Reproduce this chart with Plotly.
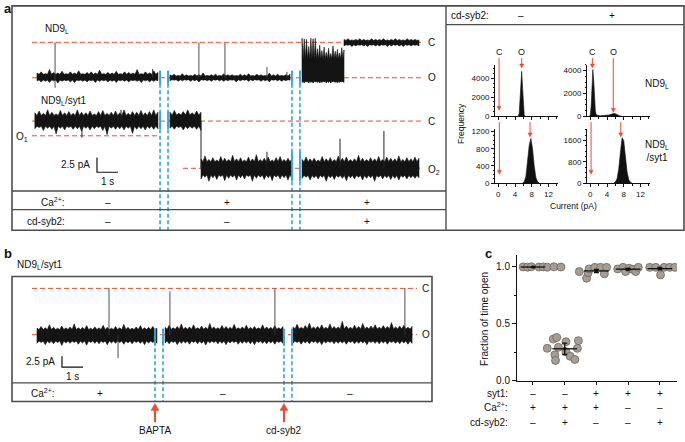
import numpy as np
import plotly.graph_objects as go

W, H = 685, 442
def PX(x): return x / W
def PY(y): return 1 - y / H

FONT = "Liberation Sans, Arial, Helvetica, sans-serif"
RED = "#ea4a33"
BLUE = "#2aa8e0"
FRAME = "#4d4d4d"
INK = "#111111"

# ======================= DATA =======================
# ---- Panel a: ND9L trace (pA, open current drawn downward) ----
a1_C, a1_O = 0.0, 6.0
a1_seg_t0 = [0.00, 6.33, 12.62, 14.62]
a1_seg_t1 = [5.76, 12.05, 14.62, 18.19]
a1_seg_level = [5.9, 6.0, 6.3, 0.0]
a1_seg_up = [
    [0.7,0.9,0.6,1.3,0.8,0.7,1.0,0.6,0.9,0.7,1.1,0.6,0.8,0.9,0.7,1.2,0.6,0.8,0.7,1.0,0.6,0.9,0.8,0.7,1.3,0.6,0.9,0.7,1.1,0.8],
    [0.5,0.6,0.4,0.7,0.5,0.4,0.6,0.5,0.8,0.4,0.5,0.6,0.4,0.7,0.5,0.5,0.4,0.6,0.5,0.7,0.4,0.6,0.5,0.4,0.8,0.5,0.6,0.4,0.5,0.6],
    [7.0,6.9,6.8,5.6,7.0,6.9,7.0,5.2,5.8,4.9,5.5,4.6,5.3,4.4,5.7,4.8,5.1,4.5,5.4,5.0],
    [0.5,0.6,0.4,0.5,0.6,0.5,0.4,0.6,0.5,0.5,0.6,0.4,0.5,0.6,0.5,0.4,0.6,0.5,0.5,0.4],
]
a1_seg_dn = [
    [0.6,0.8,0.7,0.9,0.6,1.0,0.7,0.6,0.8,0.9,0.6,0.7,0.8,0.6,0.9,0.7,0.6,0.8,0.7,0.9,0.6,0.7,0.8,0.6,0.7,0.9,0.6,0.8,0.7,0.6],
    [0.5,0.4,0.6,0.5,0.4,0.6,0.5,0.7,0.4,0.5,0.6,0.4,0.5,0.6,0.5,0.4,0.7,0.5,0.4,0.6,0.5,0.4,0.6,0.5,0.7,0.4,0.5,0.6,0.5,0.4],
    [0.5,0.6,0.4,0.6,0.5,0.6,0.4,0.5,0.6,0.5,0.4,0.6,0.5,0.6,0.4,0.5,0.6,0.5,0.4,0.5],
    [0.6,0.5,0.7,0.6,0.5,0.6,0.7,0.5,0.6,0.6,0.5,0.7,0.6,0.5,0.6,0.7,0.5,0.6,0.5,0.6],
]
a1_spike_t = [0.86, 0.86, 5.50, 7.71, 8.95, 10.95, 11.90]
a1_spike_base = [5.9, 5.9, 5.9, 6.0, 6.0, 6.0, 6.0]
a1_spike_to = [0.0, 7.7, 4.5, 0.0, 0.1, 4.2, 5.0]

# ---- Panel a: ND9L/syt1 trace ----
a2_C, a2_O1, a2_O2 = 0.0, 2.5, 8.0
a2_seg_t0 = [-0.10, 6.33, 7.81, 12.62]
a2_seg_t1 = [5.76, 7.81, 12.14, 18.19]
a2_seg_level = [0.0, 0.0, 8.0, 8.0]
a2_seg_up = [
    [1.4,1.7,1.3,1.9,1.5,1.2,1.8,1.4,1.6,1.3,1.9,1.5,1.4,1.7,1.2,1.6,1.8,1.3,1.5,1.7,1.4,1.9,1.3,1.6,1.5,1.8,1.4,1.6,1.9,1.5],
    [1.5,1.8,1.3,1.6,1.9,1.4,1.7,1.5],
    [1.6,2.1,1.5,1.8,1.4,2.0,1.7,1.5,2.2,1.6,1.8,1.4,1.9,1.6,2.3,1.5,1.7,1.9,1.4,1.8,2.0,1.5,1.7,1.6],
    [1.5,1.9,1.6,1.7,1.4,2.0,1.6,1.8,1.5,2.1,1.7,1.9,1.5,1.6,2.2,1.7,1.5,1.8,1.6,2.0,1.5,1.9,1.7,1.6,2.1,1.5,1.8,1.6,1.9,1.7],
]
a2_seg_dn = [
    [1.3,1.1,1.6,1.2,1.4,2.2,1.2,1.5,1.1,1.4,1.3,1.7,1.2,1.5,1.3,1.1,1.6,2.3,1.2,1.4,1.3,1.5,1.2,2.1,1.4,1.3,1.5,1.2,1.4,1.3],
    [1.2,1.4,1.1,1.5,1.3,1.2,1.4,1.6],
    [1.8,1.5,2.2,1.6,1.9,1.4,2.1,1.7,1.5,2.0,1.6,1.8,1.4,2.2,1.7,1.5,1.9,1.6,2.1,1.5,1.8,1.6,2.0,1.7],
    [1.7,1.5,2.0,1.6,1.8,1.5,2.2,1.6,1.9,1.5,1.7,2.1,1.6,1.8,1.5,2.0,1.7,1.6,2.2,1.5,1.8,1.6,1.9,1.7,2.0,1.5,1.8,1.6,1.7,1.6],
]
a2_spike_t = [2.14, 4.00, 7.81, 10.95, 14.43, 16.52]
a2_spike_base = [0.0, 0.0, 0.0, 8.0, 8.0, 8.0]
a2_spike_to = [2.8, -1.9, 8.0, 5.2, 3.0, 1.7]

a_exchange_t = [5.86, 6.24, 12.14, 12.52]
a_cond_t = [3.38, 9.05, 15.71]
a_ca_signs = ["–", "+", "+"]
a_syb_signs = ["–", "–", "+"]

# ---- Panel a: all-points histograms (current pA, counts) ----
h_syb_signs = ["–", "+"]
h1_x = [4.6, 4.8, 5.0, 5.2, 5.4, 5.6, 5.8, 6.0, 6.2, 6.4]
h1_y = [0, 40, 300, 1500, 3800, 4750, 3100, 900, 150, 0]
h2_x = [-0.2, 0.0, 0.2, 0.4, 0.6, 0.8, 1.0, 1.2, 1.4, 1.8, 2.5, 3.5, 4.5, 5.0, 5.5, 6.0, 6.5, 7.0, 7.5]
h2_y = [0, 150, 900, 2800, 4100, 3200, 1400, 450, 150, 60, 40, 50, 100, 170, 240, 220, 120, 40, 0]
h3_x = [5.8, 6.2, 6.6, 7.0, 7.4, 7.8, 8.2, 8.6, 9.0, 9.4, 9.8]
h3_y = [0, 30, 150, 460, 880, 1040, 800, 400, 130, 30, 0]
h4_x = [5.6, 6.0, 6.4, 6.8, 7.2, 7.6, 8.0, 8.4, 8.8, 9.2, 9.6, 10.0]
h4_y = [0, 40, 160, 520, 1150, 1700, 1600, 1000, 420, 130, 30, 0]
h_closed = [0.17, 0.5, 0.24, 0.17]
h_open = [5.6, 5.5, 7.6, 7.3]

# ---- Panel b: ND9L/syt1 trace ----
b_C, b_O = 0.0, 10.7
b_seg_t0 = [0.00, 6.10, 12.19]
b_seg_t1 = [5.71, 11.71, 17.86]
b_seg_level = [10.8, 10.8, 10.8]
b_seg_up = [
    [1.6,2.0,1.7,2.4,1.8,1.6,2.1,1.7,1.9,2.6,1.7,1.8,2.2,1.6,1.9,1.7,2.3,1.8,1.6,2.0,1.7,2.5,1.8,1.6,1.9,2.2,1.7,1.8,2.0,1.6],
    [1.8,2.3,1.7,2.0,2.6,1.8,1.9,2.4,1.7,2.1,1.8,2.7,1.9,1.7,2.2,2.0,1.8,2.5,1.7,1.9,2.3,1.8,2.0,1.7,2.4,1.9,1.8,2.2,1.7,2.0],
    [1.9,2.5,1.8,2.2,2.8,1.9,2.0,2.4,1.8,2.6,2.0,1.9,3.2,2.1,1.8,2.3,2.0,2.7,1.9,2.1,2.4,1.8,2.2,2.0,2.9,1.9,2.1,2.3,1.8,2.0],
]
b_seg_dn = [
    [1.9,1.7,2.2,1.8,2.0,1.7,2.4,1.8,1.9,1.7,2.1,1.8,2.3,1.7,1.9,2.0,1.7,2.2,1.8,1.9,1.7,2.1,1.8,2.0,1.7,1.9,2.2,1.8,1.7,1.9],
    [1.8,2.0,1.7,2.2,1.9,1.8,2.1,1.7,2.0,1.9,2.3,1.8,1.7,2.0,1.9,2.2,1.8,1.7,2.1,1.9,1.8,2.0,2.2,1.7,1.9,2.0,1.8,2.1,1.7,1.9],
    [1.9,1.7,2.1,1.8,2.0,1.7,1.9,2.2,1.8,1.7,2.0,1.9,1.8,2.1,1.7,2.0,1.9,1.8,2.2,1.7,1.9,2.0,1.8,2.1,1.7,1.9,2.0,1.8,2.1,1.9],
]
b_spike_t = [3.43, 3.86, 6.33, 11.33, 17.52]
b_spike_base = [10.8, 10.8, 10.8, 10.8, 10.8]
b_spike_to = [0.0, 16.1, 0.7, 0.0, 0.0]
b_exchange_t = [5.62, 6.00, 11.76, 12.14]
b_cond_t = [3.0, 8.86, 14.9]
b_ca_signs = ["+", "–", "–"]
b_events = ["BAPTA", "cd-syb2"]
b_event_t = [5.62, 11.76]

# ---- Panel c: fraction of time open ----
c_cat = [1, 2, 3, 4, 5]
c_syt1 = ["–", "–", "+", "+", "+"]
c_ca = ["+", "+", "+", "–", "–"]
c_syb = ["–", "+", "–", "–", "+"]
c_vals = [
    [0.998, 0.996, 0.999, 0.997, 0.998, 0.995, 0.999, 0.997],
    [0.285, 0.366, 0.380, 0.228, 0.179, 0.294, 0.343, 0.256, 0.216, 0.187, 0.285, 0.352],
    [0.957, 0.899, 0.948, 0.980, 0.994, 0.994, 0.937, 0.994],
    [0.980, 0.994, 0.957, 0.986, 0.977, 0.957, 0.994],
    [0.994, 0.994, 0.928, 0.994, 0.994, 0.994],
]
c_jitter = [
    [-0.31, -0.17, -0.05, 0.19, 0.32, 0.45, 0.66, 0.88],
    [-0.55, -0.36, -0.25, -0.31, -0.29, -0.20, 0.04, 0.04, 0.17, 0.32, 0.40, 0.43],
    [-0.54, -0.31, -0.26, -0.23, -0.05, 0.13, 0.25, 0.32],
    [-0.33, -0.16, -0.08, 0.03, 0.14, 0.24, 0.32],
    [-0.32, -0.13, 0.02, 0.13, 0.31, 0.47],
]
c_mean = [0.997, 0.281, 0.963, 0.978, 0.983]
c_sem = [0.002, 0.050, 0.014, 0.007, 0.011]

# ======================= FIGURE =======================
fig = go.Figure()
A2_OFF = 13.33   # vertical display offset of the second trace (pA)

def add_line(xa, ya, xs, ys, color, width, dash="solid"):
    fig.add_trace(go.Scatter(x=xs, y=ys, xaxis=xa, yaxis=ya, mode="lines",
                             line=dict(color=color, width=width, dash=dash),
                             hoverinfo="skip", showlegend=False))

def add_band(xa, ya, t0, t1, level, up, dn, off):
    """Noisy current record drawn as a filled envelope: spikes at each
    sample, a solid core between them."""
    up = np.array(up); dn = np.array(dn)
    n = len(up)
    t = np.linspace(t0, t1, n)
    dt = (t1 - t0) / (n - 1)
    cu, cd = 0.8 * up.min(), 0.8 * dn.min()
    tx, ty, bx, by = [], [], [], []
    for i in range(n):
        tx.append(t[i]); ty.append(off + level - up[i])
        bx.append(t[i]); by.append(off + level + dn[i])
        if i < n - 1:
            tx.append(t[i] + dt * 0.5); ty.append(off + level - cu)
            bx.append(t[i] + dt * 0.5); by.append(off + level + cd)
    xs = tx + bx[::-1] + [tx[0]]
    ys = ty + by[::-1] + [ty[0]]
    fig.add_trace(go.Scatter(x=xs, y=ys, xaxis=xa, yaxis=ya, mode="lines",
                             fill="toself", fillcolor="#141414",
                             line=dict(color="#141414", width=0.6),
                             hoverinfo="skip", showlegend=False))

def add_spikes(xa, ya, ts, base, to, off, color="#3a3a3a", width=0.9):
    xs, ys = [], []
    for t, b, e in zip(ts, base, to):
        xs += [t, t, None]
        ys += [off + b, off + e, None]
    add_line(xa, ya, xs, ys, color, width)

# ---- Panel a traces (axis x / y) ----
A_END = 18.38
add_line("x", "y", [-0.24, A_END], [a1_C, a1_C], RED, 1, "5px,3px")
add_line("x", "y", [-0.24, A_END], [a1_O, a1_O], RED, 1, "5px,3px")
add_line("x", "y", [-0.24, A_END], [A2_OFF + a2_C] * 2, RED, 1, "5px,3px")
add_line("x", "y", [-0.24, 5.76], [A2_OFF + a2_O1] * 2, RED, 1, "5px,3px")
add_line("x", "y", [6.95, A_END], [A2_OFF + a2_O2] * 2, RED, 1, "5px,3px")

for t0, t1, lv, up, dn in zip(a1_seg_t0, a1_seg_t1, a1_seg_level, a1_seg_up, a1_seg_dn):
    add_band("x", "y", t0, t1, lv, up, dn, 0.0)
for t0, t1, lv, up, dn in zip(a2_seg_t0, a2_seg_t1, a2_seg_level, a2_seg_up, a2_seg_dn):
    add_band("x", "y", t0, t1, lv, up, dn, A2_OFF)
add_spikes("x", "y", a1_spike_t, a1_spike_base, a1_spike_to, 0.0)
add_spikes("x", "y", a2_spike_t, a2_spike_base, a2_spike_to, A2_OFF, "#222", 1.0)

# solution exchange markers
for i, t in enumerate(a_exchange_t):
    add_line("x", "y", [t, t], [4.83, 31.83], BLUE, 1.6, "4px,2.5px")
    add_line("x", "y", [t, t], [4.83, 7.17], BLUE, 1.8)
    if i < 2:
        add_line("x", "y", [t, t], [11.83, 14.67], BLUE, 1.8)
    else:
        add_line("x", "y", [t, t], [18.5, 23.5], BLUE, 1.8)

# scale bar (2.5 pA, 1 s)
add_line("x", "y", [2.857, 2.857, 3.857], [22.0 - 2.5, 22.0, 22.0], INK, 1.2)

# ---- Panel b traces (axis x2 / y2) ----
B_END = 18.1
add_line("x2", "y2", [-0.24, B_END], [b_C, b_C], RED, 1, "5px,3px")
add_line("x2", "y2", [-0.24, B_END], [b_O, b_O], RED, 1, "5px,3px")
for t0, t1, lv, up, dn in zip(b_seg_t0, b_seg_t1, b_seg_level, b_seg_up, b_seg_dn):
    add_band("x2", "y2", t0, t1, lv, up, dn, 0.0)
add_spikes("x2", "y2", b_spike_t, b_spike_base, b_spike_to, 0.0)
for t in b_exchange_t:
    add_line("x2", "y2", [t, t], [9.32, 26.14], BLUE, 1.6, "4px,2.5px")
    add_line("x2", "y2", [t, t], [9.32, 13.18], BLUE, 1.8)
add_line("x2", "y2", [1.19, 1.19, 2.19], [18.18 - 2.5, 18.18, 18.18], INK, 1.2)

# ---- Histograms ----
hist = [(h1_x, h1_y, "x3", "y3"), (h2_x, h2_y, "x4", "y4"),
        (h3_x, h3_y, "x5", "y5"), (h4_x, h4_y, "x6", "y6")]
for hx, hy, xa, ya in hist:
    fig.add_trace(go.Scatter(x=hx, y=hy, xaxis=xa, yaxis=ya, mode="lines",
                             fill="tozeroy", fillcolor="#111",
                             line=dict(color="#111", width=0.6),
                             hoverinfo="skip", showlegend=False))

# ---- Panel c ----
for k, cat in enumerate(c_cat):
    fig.add_trace(go.Scatter(
        x=[cat + j for j in c_jitter[k]], y=c_vals[k], xaxis="x7", yaxis="y7",
        mode="markers", marker=dict(size=8, color="#a59d96",
                                    line=dict(color="#6e6862", width=0.8)),
        hoverinfo="skip", showlegend=False))
for k, cat in enumerate(c_cat):
    add_line("x7", "y7", [cat - 0.39, cat + 0.39], [c_mean[k], c_mean[k]], "#111", 1.3)
fig.add_trace(go.Scatter(
    x=c_cat, y=c_mean, xaxis="x7", yaxis="y7", mode="markers",
    marker=dict(size=3, color="#111", symbol="square"),
    error_y=dict(type="data", array=c_sem, color="#111", thickness=1.3, width=2.5),
    hoverinfo="skip", showlegend=False))

# ======================= AXES =======================
hidden = dict(visible=False, showgrid=False, zeroline=False, fixedrange=True)
layout_axes = dict(
    xaxis=dict(domain=[PX(12), PX(446)], range=[-1.190, 19.476], anchor="y", **hidden),
    yaxis=dict(domain=[PY(233), PY(5)], range=[31.833, -6.167], anchor="x", **hidden),
    xaxis2=dict(domain=[PX(12), PX(432)], range=[-1.190, 18.81], anchor="y2", **hidden),
    yaxis2=dict(domain=[PY(407), PY(280)], range=[26.14, -2.727], anchor="x2", **hidden),
)

def hax(domain, show_labels):
    return dict(domain=domain, range=[-0.8, 14.3], showline=True, linecolor="#111",
                linewidth=1, ticks="outside", ticklen=3, tickwidth=1, tickcolor="#111",
                tickvals=[0, 4, 8, 12], showticklabels=show_labels,
                tickfont=dict(size=8, color=INK, family=FONT),
                minor=dict(ticks="outside", ticklen=2, dtick=2, tickcolor="#111"),
                showgrid=False, zeroline=False, fixedrange=True)

def hay(domain, rng, vals, minor_dtick):
    return dict(domain=domain, range=rng, showline=True, linecolor="#111",
                linewidth=1, ticks="outside", ticklen=3, tickwidth=1, tickcolor="#111",
                tickvals=vals, tickfont=dict(size=8, color=INK, family=FONT),
                minor=dict(ticks="outside", ticklen=1.5, dtick=minor_dtick, tickcolor="#111"),
                showgrid=False, zeroline=False, fixedrange=True)

TOP = [PY(117), PY(65)]
BOT = [PY(185), PY(130)]
LEFT = [PX(495), PX(558)]
RIGHT = [PX(587), PX(650)]
layout_axes.update(
    xaxis3=dict(anchor="y3", **hax(LEFT, False)),
    yaxis3=dict(anchor="x3", **hay(TOP, [0, 5420], [0, 2000, 4000], 500)),
    xaxis4=dict(anchor="y4", **hax(RIGHT, False)),
    yaxis4=dict(anchor="x4", **hay(TOP, [0, 4500], [0, 2000, 4000], 500)),
    xaxis5=dict(anchor="y5", **hax(LEFT, True)),
    yaxis5=dict(anchor="x5", **hay(BOT, [0, 1264], [0, 400, 800, 1200], 100)),
    xaxis6=dict(anchor="y6", **hax(RIGHT, True)),
    yaxis6=dict(anchor="x6", **hay(BOT, [0, 2030], [0, 800, 1600], 200)),
    xaxis7=dict(domain=[PX(517), PX(677)], range=[0.496, 5.54], anchor="y7",
                showline=True, linecolor="#111", linewidth=1, ticks="outside",
                ticklen=3, tickcolor="#111", tickvals=c_cat, showticklabels=False,
                showgrid=False, zeroline=False, fixedrange=True),
    yaxis7=dict(domain=[PY(386), PY(258)], range=[0, 1.103], anchor="x7",
                showline=True, linecolor="#111", linewidth=1, ticks="outside",
                ticklen=4, tickcolor="#111", tickvals=[0, 0.5, 1.0],
                ticktext=["0.0", "0.5", "1.0"],
                tickfont=dict(size=10, color=INK, family=FONT),
                minor=dict(ticks="outside", ticklen=2, tickvals=[0.25, 0.75], tickcolor="#111"),
                showgrid=False, zeroline=False, fixedrange=True),
)

# ======================= SHAPES =======================
shapes = []
def pline(x0, y0, x1, y1, color=FRAME, width=1.4):
    shapes.append(dict(type="line", xref="paper", yref="paper",
                       x0=PX(x0), y0=PY(y0), x1=PX(x1), y1=PY(y1),
                       line=dict(color=color, width=width)))
def prect(x0, y0, x1, y1):
    shapes.append(dict(type="rect", xref="paper", yref="paper",
                       x0=PX(x0), y0=PY(y1), x1=PX(x1), y1=PY(y0),
                       line=dict(color=FRAME, width=1.6)))
prect(12, 5, 684, 233)
pline(446, 5, 446, 233)
pline(12, 193, 446, 193)
pline(12, 212, 446, 212)
pline(446, 24, 684, 24)
prect(12, 280, 432, 407)
pline(12, 388, 432, 388)

def arrow(xref, x, tip_py, tail_py, half_w, head_len, width):
    """Red arrow: shaft + filled triangular head; x in data units of xref."""
    d = 1 if tail_py < tip_py else -1          # +1 pointing down
    base_py = tip_py - d * head_len
    shapes.append(dict(type="line", xref=xref, yref="paper",
                       x0=x, x1=x, y0=PY(tail_py), y1=PY(base_py),
                       line=dict(color=RED, width=width)))
    shapes.append(dict(type="path", xref=xref, yref="paper",
                       path=f"M {x - half_w},{PY(base_py)} L {x + half_w},{PY(base_py)} "
                            f"L {x},{PY(tip_py)} Z",
                       fillcolor=RED, line=dict(color=RED, width=0.5)))

arrow("x3", h_closed[0], 111, 58, 0.5, 4, 1)
arrow("x3", h_open[0], 68, 58, 0.5, 4, 1)
arrow("x4", h_closed[1], 68, 58, 0.5, 4, 1)
arrow("x4", h_open[1], 113, 58, 0.5, 4, 1)
arrow("x5", h_closed[2], 176, 123, 0.5, 4, 1)
arrow("x5", h_open[2], 138, 123, 0.5, 4, 1)
arrow("x6", h_closed[3], 176, 123, 0.5, 4, 1)
arrow("x6", h_open[3], 138, 123, 0.5, 4, 1)
for t in b_event_t:
    arrow("x2", t, 409, 428, 0.19, 7, 2)

# ======================= ANNOTATIONS =======================
ann = []
def txt(x, y, s, size=10, xanchor="center", xref="paper", bold=False, angle=0, color=INK):
    ann.append(dict(x=PX(x) if xref == "paper" else x, y=PY(y), xref=xref, yref="paper",
                    text=f"<b>{s}</b>" if bold else s, showarrow=False,
                    xanchor=xanchor, yanchor="middle", textangle=angle,
                    font=dict(size=size, color=color, family=FONT)))

# panel letters
txt(2, 8, "a", 13, "left", bold=True)
txt(2, 257, "b", 13, "left", bold=True)
txt(483, 257, "c", 13, "left", bold=True)

# panel a labels
txt(43, 28, "ND9<sub>L</sub>", 10, "left")
txt(39, 102, "ND9<sub>L</sub>/syt1", 10, "left")
txt(22, 138, "O<sub>1</sub>", 10)
txt(426, 42, "C", 10, "left")
txt(426, 78, "O", 10, "left")
txt(426, 122, "C", 10, "left")
txt(426, 172, "O<sub>2</sub>", 10, "left")
txt(92, 166, "2.5 pA", 10, "right")
txt(107, 183, "1 s", 10)
txt(67, 204, "Ca<sup>2+</sup>:", 10, "right")
txt(67, 224, "cd-syb2:", 10, "right")
for t, s in zip(a_cond_t, a_ca_signs):
    txt(t, 205, s, 10, xref="x")
for t, s in zip(a_cond_t, a_syb_signs):
    txt(t, 224, s, 10, xref="x")

# histogram labels
txt(449, 15, "cd-syb2:", 10, "left")
txt(521, 15, h_syb_signs[0], 10)
txt(612, 15, h_syb_signs[1], 10)
txt(643, 84, "ND9<sub>L</sub>", 10, "left")
txt(643, 152, "ND9<sub>L</sub><br>/syt1", 10, "left")
txt(461, 125, "Frequency", 8.5, angle=-90)
txt(573, 208, "Current (pA)", 8.5)
for xa, c, o in zip(["x3", "x4"], h_closed[:2], h_open[:2]):
    txt(c, 52, "C", 9, xref=xa)
    txt(o, 52, "O", 9, xref=xa)

# panel b labels
txt(15, 268, "ND9<sub>L</sub>/syt1", 10, "left")
txt(420, 292, "C", 10, "left")
txt(420, 339, "O", 10, "left")
txt(57, 366, "2.5 pA", 10, "right")
txt(72, 382, "1 s", 10)
txt(57, 398, "Ca<sup>2+</sup>:", 10, "right")
for t, s in zip(b_cond_t, b_ca_signs):
    txt(t, 399, s, 10, xref="x2")
for t, s in zip(b_event_t, b_events):
    txt(t, 436, s, 10, xref="x2")

# panel c labels
txt(485, 323, "Fraction of time open", 10, angle=-90)
txt(510, 399, "syt1:", 10, "right")
txt(510, 413, "Ca<sup>2+</sup>:", 10, "right")
txt(510, 428, "cd-syb2:", 10, "right")
for cat, s1, s2, s3 in zip(c_cat, c_syt1, c_ca, c_syb):
    txt(cat, 399, s1, 10, xref="x7")
    txt(cat, 413, s2, 10, xref="x7")
    txt(cat, 428, s3, 10, xref="x7")

fig.update_layout(
    width=W, height=H, margin=dict(l=0, r=0, t=0, b=0),
    paper_bgcolor="white", plot_bgcolor="white",
    showlegend=False, font=dict(family=FONT, size=10, color=INK),
    shapes=shapes, annotations=ann, **layout_axes,
)

fig.write_html("out.html", config={"displayModeBar": False},
               post_script="document.body.style.margin='0px';document.body.style.padding='0px';")
